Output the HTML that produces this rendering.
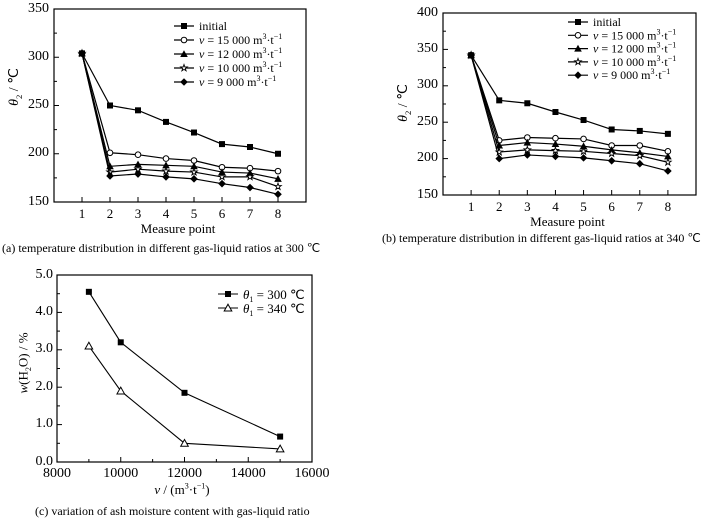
<!DOCTYPE html>
<html><head><meta charset="utf-8"><style>
html,body{margin:0;padding:0;background:#fff;}
#wrap{position:relative;width:718px;height:524px;overflow:hidden;}
svg{position:absolute;left:0;top:0;}
svg text,svg tspan{font-family:"Liberation Serif",serif;}
.lbl{position:absolute;font-family:"Liberation Serif",serif;white-space:nowrap;line-height:1;color:#000;}
.lbl sub,.lbl sup{font-size:0.62em;line-height:0;}
</style></head><body>
<div id="wrap">
<svg id="s" width="718" height="524" viewBox="0 0 718 524"></svg>
</div>
<script>
const measurePoints=[1,2,3,4,5,6,7,8];
const seriesNames=["initial","15 000","12 000","10 000","9 000"];
const markers=["square","circle","triangle","star","diamond"];
const a_initial=[304,250,245,233,222,210,207,200];
const a_v15000=[304,201,199,195,193,186,185,182];
const a_v12000=[304,187,189,188,187,181,180,174];
const a_v10000=[304,181,184,182,181,176,176,166];
const a_v9000=[304,177,179,176,174,169,165,158];
const b_initial=[342,280,276,264,253,240,238,234];
const b_v15000=[342,225,229,228,227,218,218,210];
const b_v12000=[342,218,222,220,217,212,208,203];
const b_v10000=[342,209,212,211,210,207,204,195];
const b_v9000=[342,200,205,203,201,197,193,183];
const aTicks=[150,200,250,300,350];
const bTicks=[150,200,250,300,350,400];
const cX=[9000,10000,12000,15000];
const c300=[4.55,3.2,1.85,0.68];
const c340=[3.1,1.9,0.5,0.35];
const cXTicks=[8000,10000,12000,14000,16000];
const cYTicks=[0,1,2,3,4,5];

const NS="http://www.w3.org/2000/svg";
const svg=document.getElementById('s');
const wrap=document.getElementById('wrap');
function el(tag,attrs,parent,text){const e=document.createElementNS(NS,tag);for(const k in attrs)e.setAttribute(k,attrs[k]);if(text!==undefined)e.textContent=text;(parent||svg).appendChild(e);return e;}
// HTML label: x,y = baseline anchor point; anchor 'end'|'middle'
function lbl(x,y,html,size,anchor,name){
  const d=document.createElement('div');d.className='lbl';
  d.innerHTML=html;d.style.fontSize=size+'px';
  d.style.left=x+'px';d.style.top=(y-size*0.89)+'px';
  d.style.transform=anchor==='end'?'translateX(-100%)':'translateX(-50%)';
  
  
  wrap.appendChild(d);return d;
}
function vlbl(cx,cy,html,size,name){
  const d=document.createElement('div');d.className='lbl';
  d.innerHTML=html;d.style.fontSize=size+'px';
  d.style.left=cx+'px';d.style.top=cy+'px';
  d.style.transform='translate(-50%,-50%) rotate(-90deg)';
  
  
  wrap.appendChild(d);return d;
}
function marker(g,type,x,y){
  let m;
  if(type==="square")m=el('rect',{x:x-3,y:y-3,width:6,height:6,fill:'#000'},g);
  else if(type==="circle")m=el('circle',{cx:x,cy:y,r:2.8,fill:'#fff',stroke:'#000','stroke-width':1},g);
  else if(type==="triangle")m=el('polygon',{points:`${x},${y-3.8} ${x+3.8},${y+3} ${x-3.8},${y+3}`,fill:'#000'},g);
  else if(type==="triangleOpen")m=el('polygon',{points:`${x},${y-3.8} ${x+3.8},${y+3} ${x-3.8},${y+3}`,fill:'#fff',stroke:'#000','stroke-width':1},g);
  else if(type==="star"){let p=[];for(let i=0;i<10;i++){const r=i%2?1.4:3.5,a=-Math.PI/2+i*Math.PI/5;p.push((x+r*Math.cos(a)).toFixed(1)+','+(y+r*Math.sin(a)).toFixed(1));}m=el('polygon',{points:p.join(' '),fill:'#fff',stroke:'#000','stroke-width':0.9},g);}
  else m=el('polygon',{points:`${x},${y-3.8} ${x+3.8},${y} ${x},${y+3.8} ${x-3.8},${y}`,fill:'#000'},g);
  
  
}
function frame(name,L,T,R,B){
  const r=el('rect',{x:L,y:T,width:R-L,height:B-T,fill:'none',stroke:'#000','stroke-width':1.2});
  
}
function legendLabel(g,x,y,v,isInit){
  const t=el('text',{x:x,y:y,'font-size':12},g);
  if(isInit){t.textContent="initial";return t;}
  el('tspan',{'font-style':'italic'},t,'v');
  el('tspan',{},t,' = '+v+' m');
  el('tspan',{'font-size':8,dy:-5},t,'3');
  el('tspan',{dy:5},t,'·t');
  el('tspan',{'font-size':8,dy:-5},t,'−1');
  return t;
}
function lineChart(id,L,T,R,B,yMin,yMax,yTicks,data,leg,caption,capX,capY,ylabY){
  const xs=v=>L+(R-L)*v/9, ys=v=>B-(B-T)*(v-yMin)/(yMax-yMin);
  frame(id,L,T,R,B);
  const ax=el('g',{},svg);
  yTicks.forEach((v,i)=>{
    el('line',{x1:L,x2:L+5,y1:ys(v),y2:ys(v),stroke:'#000'},ax);
    if(i<yTicks.length-1){const m=(v+yTicks[i+1])/2;el('line',{x1:L,x2:L+3,y1:ys(m),y2:ys(m),stroke:'#000'},ax);}
    lbl(L-5,ys(v)+5,String(v),14,'end','y-tick-label');
  });
  measurePoints.forEach(p=>{
    el('line',{x1:xs(p),x2:xs(p),y1:B,y2:B-5,stroke:'#000'},ax);
    lbl(xs(p),B+17,String(p),13,'middle','x-tick-label');
  });
  lbl((L+R)/2-2,B+32,'Measure point',13,'middle',id+'-x-axis-title');
  vlbl(L-39,ylabY,'<i>θ</i><sub>2</sub> / ℃',14,id+'-y-axis-title');
  data.forEach((ser,si)=>{
    const g=el('g',{},svg);
    el('polyline',{points:ser.map((v,i)=>xs(measurePoints[i])+','+ys(v)).join(' '),fill:'none',stroke:'#000','stroke-width':1.2},g);
    ser.forEach((v,i)=>marker(g,markers[si],xs(measurePoints[i]),ys(v)));
    const lg=el('g',{},svg);
    const ly=leg.y+si*leg.dy;
    el('line',{x1:leg.x-10,x2:leg.x+10,y1:ly,y2:ly,stroke:'#000','stroke-width':1.2},lg);
    marker(lg,markers[si],leg.x,ly);
    legendLabel(lg,leg.x+15,ly+4,seriesNames[si],si===0);
  });
  const c=el('text',{x:capX,y:capY,'font-size':12},svg,caption);
  
}
lineChart('chart-a',54,9,306,202,150,350,aTicks,[a_initial,a_v15000,a_v12000,a_v10000,a_v9000],{x:184,y:26,dy:14},'(a) temperature distribution in different gas-liquid ratios at 300 ℃',2,252,87);
lineChart('chart-b',443,13,696,195,150,400,bTicks,[b_initial,b_v15000,b_v12000,b_v10000,b_v9000],{x:578,y:22,dy:13.3},'(b) temperature distribution in different gas-liquid ratios at 340 ℃',382,242,103);

(function(){
  const L=57,T=275,R=312,B=462;
  const xs=v=>L+(R-L)*(v-8000)/8000, ys=v=>B-(B-T)*v/5;
  frame('chart-c',L,T,R,B);
  const ax=el('g',{},svg);
  cYTicks.forEach((v,i)=>{
    el('line',{x1:L,x2:L+5,y1:ys(v),y2:ys(v),stroke:'#000'},ax);
    if(i<cYTicks.length-1)el('line',{x1:L,x2:L+3,y1:ys(v+0.5),y2:ys(v+0.5),stroke:'#000'},ax);
    lbl(L-4,ys(v)+5,v.toFixed(1),14,'end','y-tick-label');
  });
  cXTicks.forEach((v,i)=>{
    el('line',{x1:xs(v),x2:xs(v),y1:B,y2:B-5,stroke:'#000'},ax);
    if(i<cXTicks.length-1)el('line',{x1:xs(v+1000),x2:xs(v+1000),y1:B,y2:B-3,stroke:'#000'},ax);
    lbl(xs(v),B+17,String(v),14,'middle','x-tick-label');
  });
  lbl(182,495,'<i>v</i> / (m<sup>3</sup>·t<sup>−1</sup>)',13,'middle','chart-c-x-axis-title');
  vlbl(23,363,'<i>w</i>(H<sub>2</sub>O) / %',13,'chart-c-y-axis-title');
  [[c300,'square','300'],[c340,'triangleOpen','340']].forEach((s,si)=>{
    const g=el('g',{},svg);
    el('polyline',{points:s[0].map((v,i)=>xs(cX[i])+','+ys(v)).join(' '),fill:'none',stroke:'#000','stroke-width':1.1},g);
    s[0].forEach((v,i)=>marker(g,s[1],xs(cX[i]),ys(v)));
    const lg=el('g',{},svg);
    const ly=294+si*14;
    el('line',{x1:218,x2:238,y1:ly,y2:ly,stroke:'#000'},lg);
    marker(lg,s[1],228,ly);
    const t=el('text',{x:243,y:ly+5,'font-size':13},lg);
    el('tspan',{'font-style':'italic'},t,'θ');el('tspan',{'font-size':8,dy:3},t,'1');el('tspan',{dy:-3},t,' = '+s[2]+'  ℃');
  });
  const c=el('text',{x:35,y:515,'font-size':12},svg,'(c) variation of ash moisture content with gas-liquid ratio');
  
})();
</script>
</body></html>
